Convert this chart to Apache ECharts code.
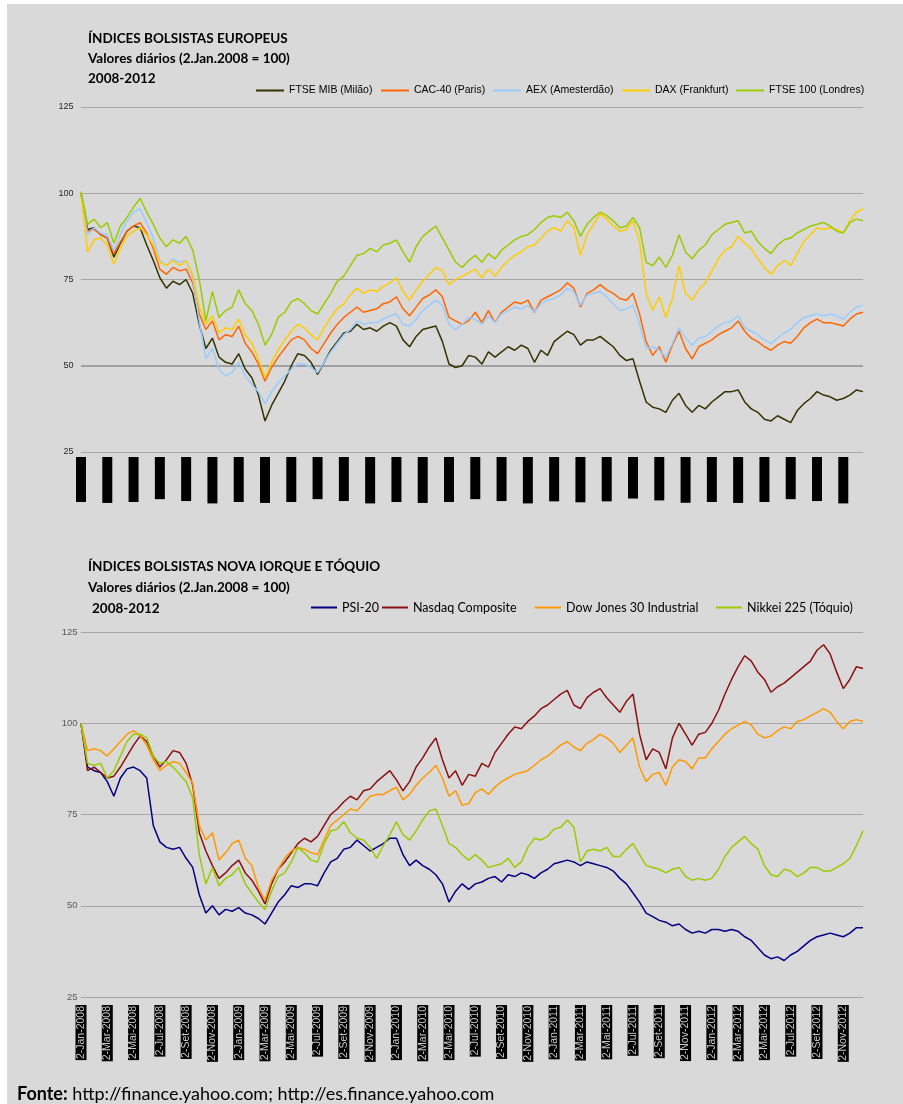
<!DOCTYPE html>
<html><head><meta charset="utf-8">
<script src="https://cdn.jsdelivr.net/npm/echarts@6/dist/echarts.min.js"></script>
<style>
html,body{margin:0;padding:0;background:#fff;}
#bg{position:absolute;left:7px;top:4px;width:896px;height:1100px;background:#d9d9d9;}
#c{position:absolute;left:0;top:0;width:903px;height:1104px;}
</style></head><body><div id="bg"></div><div id="c"></div>
<script>
// ---- categories (semi-monthly points, labels every 2 months) ----
const monthNames = ['Jan','Fev','Mar','Abr','Mai','Jun','Jul','Ago','Set','Out','Nov','Dez'];
const years = [2008, 2009, 2010, 2011, 2012];
const days = [2, 16];
const categories = [];
years.forEach(y => monthNames.forEach(m => days.forEach(d => categories.push(d + '-' + m + '-' + y))));
const yTicks = [25, 50, 75, 100, 125];

// ---- European indices (2.Jan.2008 = 100) ----
const ftseMib = [
100,89.5,90,88,87,81.5,85.5,89,90.5,90,
85,80.5,75.5,72.5,74.5,73.5,75,71,62,55,
58,52.5,51,50.5,53.5,49,46.5,41.5,34,38.5,
42,45.5,50,53.5,53,51,47.5,51,54.5,57,
59.5,60,62,60.5,61,60,61.5,62.5,61.5,57.5,
55.5,58.5,60.5,61,61.5,57,50.5,49.5,50,53,
52.5,50.5,54,52.5,54,55.5,54.5,56,55,51,
54.5,53,57,58.5,60,59,56,57.5,57.5,58.5,
57,55.5,53,51.5,52,45.5,39.5,38,37.5,36.5,
40,42,38.5,36.5,38.5,37.5,39.5,41,42.5,42.5,
43,39.5,37.5,36.5,34.5,34,35.5,34.5,33.5,37,
39,40.5,42.5,41.5,41,40,40.5,41.5,43,42.5];
const cac40 = [
100,89,89.5,88,87,82.5,86,89,90.5,91.5,
88.5,84,78,76.5,78.5,77.5,78,74,65,60.5,
63,57.5,59,58.5,61.5,56.5,54,50.5,45.5,49.5,
52.5,55,57.5,58.5,57.5,55,53.5,56.5,59.5,62,
64,65.5,67,65.5,66,66.5,68,68.5,70,66.5,
64.5,67,69.5,70.5,72,70,64,63,62,63,
65.5,62.5,66,62.5,65.5,67,68.5,68,69,65.5,
69,70,71,72,74,72.5,67,71,72,73.5,
72,71,69.5,69,71,65,57,53,55.5,51,
56,60,55,52,55.5,56.5,57.5,59,60,61,
63,60,58,57,55.5,54.5,56,57,56.5,58.5,
61,62.5,63.5,62.5,62.5,62,61.5,63.5,65,65.5];
const aex = [
99,88,90,88.5,88,83.5,88,92,94.5,95.5,
91.5,87,80.5,79,81,80,80.5,75.5,63,52,
55,49,47,48,51,47,44.5,42.5,39,42.5,
45,47,49,50.5,50.5,49.5,48,51,54,56.5,
59,60.5,63,62,62.5,62.5,63.5,64.5,65,62,
61.5,63.5,66,67.5,69,67.5,62,60.5,62,64,
63.5,62,64.5,62.5,65,66,67,66.5,67.5,65.5,
68,69,69.5,70.5,72.5,71.5,67.5,70.5,71,71.5,
70,68,66,66.5,67.5,62,55,55.5,54.5,52.5,
56.5,61,58,56,58,58.5,60,61.5,62.5,63,
64.5,61,60,59,57.5,56.5,58,59.5,60.5,62.5,
64,64.5,65,64.5,65,64.5,63.5,65.5,67,67.5];
const dax = [
100,83,86.5,87,85,79.5,84,87.5,89,90,
88,85,80,79,80.5,79,80.5,76.5,67,62,
64.5,59.5,61,60.5,63.5,59,56.5,52,46.5,51,
54.5,57.5,60,62,61,59,57.5,61,64,66.5,
68,70.5,72.5,71,72,71.5,73,74,75.5,71.5,
69,72,74.5,76.5,78.5,77.5,73.5,75,76,77,
78,75.5,78,76,78.5,80.5,82,83,84.5,85,
87,89,90,89,92,90,82,88,91,94,
92.5,90.5,89,89.5,92,86,71,66,70,64,
69.5,79,71,69,72,74,77.5,81,83.5,84.5,
87.5,85.5,84,81,78.5,76.5,79,80.5,79,82.5,
86,88,90,89.5,90,89.5,88.5,92,94.5,95.5];
const ftse100 = [
100.5,91,92.5,90,91.5,85.5,90.5,93,96,98.5,
94.5,91,87,84.5,86.5,85.5,87.5,83.5,75,63,
71.5,64,66,67,72,68,66,62,56,59,
64,65.5,68.5,69.5,68,66,65,68,71,74.5,
76,79,82,82.5,84,83,85,85.5,86.5,83,
80,84.5,87.5,89,90.5,87,83.5,80,78.5,80.5,
82,80,82.5,81,83.5,85,86.5,87.5,88,89.5,
91.5,93,93.5,93,94.5,92,87.5,91,93,94.5,
93.5,92,90,90.5,93,90,80,79,81.5,78.5,
82,88,83,81,83.5,85,88,89.5,91,91.5,
92,88.5,89,86,84,82.5,85,86.5,87,88.5,
89.5,90.5,91,91.5,90.5,89,88.5,91.5,92.5,92];

// ---- Lisbon, New York and Tokyo (2.Jan.2008 = 100) ----
const psi20 = [
100,88,87,86.5,84,80,85,87.5,88,87,
85,72,67.5,66,65.5,66,63,60.5,53,48,
50,47.5,49,48.5,49.5,48,47.5,46.5,45,48,
51,53,55.5,55,56,56,55.5,59,62,63,
65.5,66,68,66.5,65,66,67,68.5,68.5,64,
61,62.5,61,60,58.5,56,51,54,56,54.5,
56,56.5,57.5,58,56.5,58.5,58,59,58.5,57.5,
59,60,61.5,62,62.5,62,61,62,61.5,61,
60.5,59.5,57.5,56,53.5,51,48,47,46,45.5,
44.5,45,43.5,42.5,43,42.5,43.5,43.5,43,43.5,
43,41.5,40.5,38.5,36.5,35.5,36,35,36.5,37.5,
39,40.5,41.5,42,42.5,42,41.5,42.5,44,44];
const nasdaq = [
100,87,88,86.5,85,85.5,88,91,94,96.5,
95,91,88,90,92.5,92,89,83,70,65,
61,57.5,59,61,62.5,59,57,54,50.5,56,
60,62,64.5,67,68.5,67.5,69,72,75,76.5,
78.5,80,79,81.5,82,84,85.5,87,84.5,81.5,
84,88,90.5,93.5,96,90,85,87,83,86,
85.5,89,88,92,94.5,97,99,98.5,100.5,102,
104,105,106.5,108,109,105,104,107,108.5,109.5,
107,105,103,106,108,97,90,93,92,87.5,
96,100,97,94,97,97.5,100,103.5,108,112,
115.5,118.5,117,114,112,108.5,110,111,112.5,114,
115.5,117,120,121.5,119,114,109.5,112,115.5,115];
const dowJones = [
100,92.5,93,92.5,91,93,95,97,98,96.5,
94,90,87,88.5,89.5,89,86.5,83.5,72,68,
70,62.5,64.5,67,68,63,61,55,51.5,57,
60,63,65,66,65.5,64.5,64,68,72,73.5,
75,76.5,76,78,80,80.5,80.5,81.5,82.5,79,
80.5,83,85,86.5,88.5,85,80,81.5,77.5,78,
81,82,80.5,82.5,84,85,86,86.5,87,88.5,
90,91,92.5,94,95,93.5,92.5,94.5,95.5,97,
96,94.5,92,94,96,88,84,86,86.5,83,
88,90,89.5,87.5,90.5,90.5,93,95,97,98.5,
99.5,100.5,99.5,97,96,96.5,98,99,98.5,100.5,
101,102,103,104,103,100.5,98.5,100.5,101,100.5];
const nikkei = [
100,89,88.5,89,85,87,91,95,97,97,
96,91,89,89.5,88,86,84,79.5,64,56,
60.5,55.5,57.5,58.5,60.5,56,53.5,51,49,54,
58,59,62,66,64.5,62.5,62,67,70.5,71,
73,70,68.5,68,66,63,66.5,69.5,73,69.5,
68,70.5,73.5,76,76.5,72,67,66,64,62.5,
64,62.5,60.5,61,61.5,63,60.5,62,66,68.5,
68,69,71,71.5,73.5,71.5,62,65,65.5,65,
66,63.5,63.5,65.5,67,64,61,60.5,60,59,
60,60.5,58,57,57.5,57,57.5,60,63.5,66,
67.5,69,67,65.5,61,58.5,58,60,59.5,58,
59,60.5,60.5,59.5,59.5,60.5,61.5,63,66.5,70.5];

const topSeries = [
  {name:'FTSE MIB (Milão)', data:ftseMib, color:'#333300', lx:256},
  {name:'CAC-40 (Paris)', data:cac40, color:'#ff6600', lx:381},
  {name:'AEX (Amesterdão)', data:aex, color:'#99ccff', lx:493},
  {name:'DAX (Frankfurt)', data:dax, color:'#ffcc00', lx:622},
  {name:'FTSE 100 (Londres)', data:ftse100, color:'#99cc00', lx:736}
];
const botSeries = [
  {name:'PSI-20', data:psi20, color:'#000080', lx:311},
  {name:'Nasdaq Composite', data:nasdaq, color:'#8b1010', lx:382},
  {name:'Dow Jones 30 Industrial', data:dowJones, color:'#ff9900', lx:535},
  {name:'Nikkei 225 (Tóquio)', data:nikkei, color:'#99cc00', lx:716}
];

const chart = echarts.init(document.getElementById('c'), null, {renderer:'canvas', width:903, height:1104});

function xAx(gi, fs, col, margin, lh) {
  return {type:'category', gridIndex:gi, data:categories, boundaryGap:false,
    axisLine:{show:false}, axisTick:{show:false}, splitLine:{show:false},
    axisLabel:{interval:3, rotate:90, fontSize:fs, fontFamily:'Liberation Sans', color:col,
      backgroundColor:'#000', padding:[0,1], lineHeight:lh, margin:margin}};
}
function yAx(gi, fs, col, margin) {
  return {type:'value', gridIndex:gi, min:yTicks[0], max:yTicks[yTicks.length-1], interval:25,
    axisLine:{show:false}, axisTick:{show:false},
    splitLine:{show:true, lineStyle:{color:'#a6a6a6', width:1}},
    axisLabel:{fontSize:fs, fontFamily:'Liberation Sans', color:col, margin:margin,
      formatter: v => yTicks.indexOf(v) >= 0 ? String(v) : ''}};
}

const series = [];
const legends = [];
topSeries.forEach((s, k) => {
  const ser = {name:s.name, type:'line', xAxisIndex:0, yAxisIndex:0, data:s.data, symbol:'none',
    lineStyle:{width:1.5, color:s.color}, itemStyle:{color:s.color}, z:2+k};
  if (k === 0) ser.markLine = {silent:true, symbol:'none', label:{show:false},
    lineStyle:{color:'#a0a0a0', width:2, type:'solid'}, data:[{yAxis:50}], z:1};
  series.push(ser);
  legends.push({data:[s.name], left:s.lx, top:85, icon:'rect', itemWidth:28, itemHeight:2, padding:0,
    selectedMode:false, textStyle:{fontSize:10.5, fontFamily:'Liberation Sans', color:'#000'}});
});
botSeries.forEach((s, k) => {
  series.push({name:s.name, type:'line', xAxisIndex:1, yAxisIndex:1, data:s.data, symbol:'none',
    lineStyle:{width:1.5, color:s.color}, itemStyle:{color:s.color}, z:2+k});
  legends.push({data:[s.name], left:s.lx, top:601, icon:'rect', itemWidth:26, itemHeight:2, padding:0,
    selectedMode:false, textStyle:{fontSize:12.5, fontFamily:'Lato', color:'#000'}});
});

function txt(x, y, t, font) {
  return {type:'text', x:x, y:y, silent:true,
    style:{text:t, font:font, fill:'#000', verticalAlign:'middle', align:'left'}};
}
const tf = 'bold 13.5px Lato';

chart.setOption({
  animation:false,
  backgroundColor:'transparent',
  grid:[{left:81, width:782, top:107, height:345}, {left:81, width:782, top:632, height:365}],
  xAxis:[xAx(0, 8.5, '#000', 5, 10), xAx(1, 10.5, '#c8c8c8', 8, 11)],
  yAxis:[yAx(0, 9, '#262626', 7.5), yAx(1, 9.5, '#595959', 3.5)],
  legend:legends,
  series:series,
  graphic:[
    txt(88, 39, 'ÍNDICES BOLSISTAS EUROPEUS', tf),
    txt(88, 59, 'Valores diários (2.Jan.2008 = 100)', tf),
    txt(88, 79, '2008-2012', tf),
    txt(88, 567, 'ÍNDICES BOLSISTAS NOVA IORQUE E TÓQUIO', tf),
    txt(88, 588, 'Valores diários (2.Jan.2008 = 100)', tf),
    txt(92, 609, '2008-2012', tf),
    {type:'text', x:17, y:1094, silent:true,
      style:{text:'{b|Fonte:} http://finance.yahoo.com; http://es.finance.yahoo.com',
        font:'18px Lato', fill:'#000', verticalAlign:'middle',
        rich:{b:{fontWeight:'bold', fontSize:18, fontFamily:'Lato'}}}}
  ]
});
</script></body></html>
